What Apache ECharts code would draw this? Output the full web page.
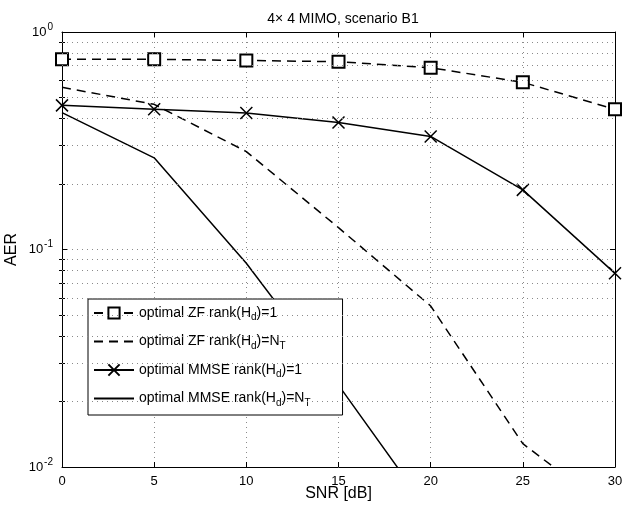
<!DOCTYPE html>
<html>
<head>
<meta charset="utf-8">
<script src="https://cdn.jsdelivr.net/npm/echarts@6/dist/echarts.min.js"></script>
<style>html,body{margin:0;padding:0;background:#fff}#c{width:625px;height:507px}</style>
</head>
<body>
<div id="c"></div>
<script>
const snr = [0, 5, 10, 15, 20, 25, 30];
const zfRank1 = [0.749, 0.749, 0.74, 0.730, 0.685, 0.587, 0.441];
const zfRankNT = [0.557, 0.465, 0.282, 0.126, 0.055, 0.0128, 0.0061];
const mmseRank1 = [0.46, 0.441, 0.424, 0.384, 0.331, 0.188, 0.0777];
const mmseRankNT = [0.426, 0.264, 0.0864, 0.0238, 0.0061];
const seriesNames = [
  'optimal ZF rank(H{s|d})=1',
  'optimal ZF rank(H{s|d})=N{s|T}',
  'optimal MMSE rank(H{s|d})=1',
  'optimal MMSE rank(H{s|d})=N{s|T}'
];
const xTicks = [0, 5, 10, 15, 20, 25, 30];
const yMajor = [0.01, 0.1, 1];
const yMinor = [0.02,0.03,0.04,0.05,0.06,0.07,0.08,0.09,0.2,0.3,0.4,0.5,0.6,0.7,0.8,0.9];
const titleText = '4\u00d7 4 MIMO, scenario B1';

const FONT = 'Liberation Sans, Arial, Helvetica, sans-serif';
const pairs = (ys) => ys.map((v, i) => [snr[i], v]);
const gridStyle = { type: [1, 4], color: '#8a8a8a', width: 1 };

const chart = echarts.init(document.getElementById('c'), null, { renderer: 'canvas' });
const yLabelFmt = (v) => {
  const e = Math.round(Math.log10(v));
  return '{b|10}{p|' + (e < 0 ? '-' + (-e) : e) + '}';
};
const hidden = { color: 'rgba(0,0,0,0)', borderColor: 'rgba(0,0,0,0)', borderWidth: 0 };
const option = {
  animation: false,
  backgroundColor: '#fff',
  textStyle: { fontFamily: FONT, color: '#000' },
  title: {
    text: titleText, left: 338, top: 7, textAlign: 'center',
    textStyle: { fontSize: 14, fontWeight: 'normal', color: '#000', fontFamily: FONT }
  },
  grid: { left: 62, top: 32, right: 10, bottom: 40, containLabel: false, outerBoundsMode: 'none' },
  xAxis: [{
    type: 'value', min: 0, max: 30, interval: 5, position: 'bottom',
    name: 'SNR [dB]', nameLocation: 'middle', nameGap: 19, nameMoveOverlap: false,
    nameTextStyle: { fontSize: 16, color: '#000', fontFamily: FONT },
    axisLine: { show: true, lineStyle: { color: '#000', width: 1 } },
    axisTick: { show: true, inside: true, length: 5, lineStyle: { color: '#000' } },
    axisLabel: { fontSize: 13, color: '#000', margin: 8, fontFamily: FONT },
    splitLine: { show: true, lineStyle: gridStyle }
  }, {
    type: 'value', min: 0, max: 30, interval: 5, position: 'top',
    axisLine: { show: true, onZero: false, lineStyle: { color: '#000', width: 1 } },
    axisTick: { show: true, inside: true, length: 5, lineStyle: { color: '#000' } },
    axisLabel: { show: false }, splitLine: { show: false }
  }],
  yAxis: [{
    type: 'log', min: 0.01, max: 1, logBase: 10, position: 'left',
    name: 'AER', nameLocation: 'middle', nameGap: 42, nameMoveOverlap: false,
    nameTextStyle: { fontSize: 16, color: '#000', fontFamily: FONT },
    axisLine: { show: true, onZero: false, lineStyle: { color: '#000', width: 1 } },
    axisTick: { show: true, inside: true, length: 5, lineStyle: { color: '#000' } },
    axisLabel: {
      margin: 9, formatter: yLabelFmt, color: '#000',
      rich: {
        b: { fontSize: 13, fontFamily: FONT, color: '#000' },
        p: { fontSize: 10, fontFamily: FONT, color: '#000', padding: [0, 0, 10, 1] }
      }
    },
    splitLine: { show: true, lineStyle: gridStyle }
  }, {
    type: 'log', min: 0.01, max: 1, logBase: 10, position: 'right',
    axisLine: { show: true, onZero: false, lineStyle: { color: '#000', width: 1 } },
    axisTick: { show: true, inside: true, length: 5, lineStyle: { color: '#000' } },
    axisLabel: { show: false }, splitLine: { show: false }
  }, {
    type: 'log', min: 0.01, max: 1, logBase: 10, position: 'left',
    axisLine: { show: false },
    axisTick: { show: true, inside: true, length: 3, customValues: yMinor, lineStyle: { color: '#000' } },
    axisLabel: { show: false }, splitLine: { show: false }
  }, {
    type: 'log', min: 0.01, max: 1, logBase: 10, position: 'right',
    axisLine: { show: false },
    axisTick: { show: true, inside: true, length: 3, customValues: yMinor, lineStyle: { color: '#000' } },
    axisLabel: { show: false }, splitLine: { show: false }
  }],
  legend: {
    orient: 'vertical', left: 88, top: 299,
    data: seriesNames,
    itemWidth: 40, itemHeight: 14, itemGap: 12,
    padding: [7, 32, 7, 5],
    backgroundColor: '#fff', borderColor: '#000', borderWidth: 1, borderRadius: 0,
    textStyle: {
      fontSize: 14, color: '#000', fontFamily: FONT,
      rich: { s: { fontSize: 10, color: '#000', fontFamily: FONT, padding: [9, 0, 0, 0] } }
    },
    selectedMode: false
  },
  series: [{
    name: 'minorgrid', type: 'line', data: [], z: 1, silent: true,
    markLine: {
      silent: true, symbol: ['none', 'none'], label: { show: false }, animation: false,
      lineStyle: gridStyle,
      data: yMinor.map(v => ({ yAxis: v }))
    }
  }, {
    name: seriesNames[0], type: 'line', data: pairs(zfRank1), z: 3,
    symbol: 'emptyRect', symbolSize: 12,
    lineStyle: { color: '#000', width: 1.5, type: [9, 6] },
    itemStyle: { color: '#000', borderColor: '#000', borderWidth: 1.5 }
  }, {
    name: seriesNames[1], type: 'line', data: pairs(zfRankNT), z: 3,
    symbol: 'circle', showSymbol: false,
    lineStyle: { color: '#000', width: 1.5, type: [9, 6] },
    itemStyle: hidden
  }, {
    name: seriesNames[2], type: 'line', data: pairs(mmseRank1), z: 3,
    symbol: 'path://M0,0L10,10M10,0L0,10', symbolSize: 12,
    lineStyle: { color: '#000', width: 1.5, type: 'solid' },
    itemStyle: { color: '#000', borderColor: '#000', borderWidth: 1.5 }
  }, {
    name: seriesNames[3], type: 'line', data: pairs(mmseRankNT), z: 3,
    symbol: 'circle', showSymbol: false,
    lineStyle: { color: '#000', width: 1.5, type: 'solid' },
    itemStyle: hidden
  }]
};
chart.setOption(option);
</script>
</body>
</html>
